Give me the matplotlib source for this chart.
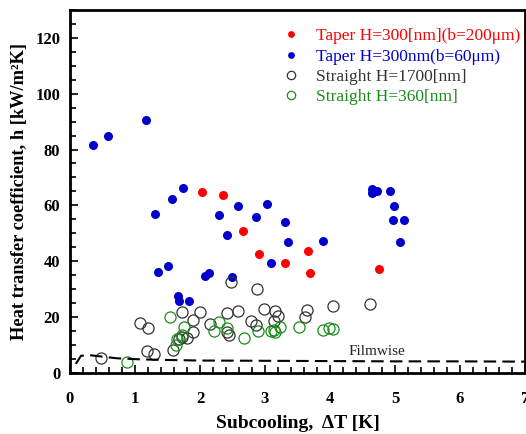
import matplotlib
matplotlib.use('Agg')
import matplotlib.pyplot as plt
from matplotlib.ticker import MultipleLocator
import numpy as np

plt.rcParams['font.family'] = ['Liberation Serif', 'DejaVu Serif']

# --- data ----------------------------------------------
taper200_x = [2.03, 2.35, 2.66, 2.91, 3.31, 3.66, 3.70, 4.76]
taper200_y = [64.8, 63.7, 50.8, 42.5, 39.4, 43.7, 35.6, 37.3]

taper60_x = [0.36, 0.58, 1.17, 1.31, 1.57, 1.74, 1.36, 1.51, 1.66, 1.67, 1.83,
             2.08, 2.14, 2.50, 2.30, 2.42, 2.59, 2.86, 3.03, 3.09, 3.31, 3.35,
             3.90, 4.65, 4.65, 4.72, 4.69, 4.92, 4.99, 4.97, 5.14, 5.08]
taper60_y = [81.7, 84.8, 90.5, 57.0, 62.1, 66.1, 36.1, 38.3, 27.5, 25.7, 25.7,
             34.8, 35.9, 34.5, 56.4, 49.2, 59.9, 55.8, 60.5, 39.4, 54.0, 47.0,
             47.2, 66.0, 64.4, 65.2, 65.0, 65.2, 59.9, 54.8, 54.8, 47.0]

str1700_x = [0.48, 1.08, 1.20, 1.18, 1.29, 1.58, 1.72, 2.00, 1.90, 1.90, 1.67,
             1.73, 1.80, 2.16, 2.42, 2.42, 2.44, 2.48, 2.59, 2.78, 2.87, 2.86,
             2.98, 3.15, 3.20, 3.14, 3.65, 3.62, 4.05, 4.62]
str1700_y = [5.3, 17.9, 16.0, 7.7, 6.7, 8.1, 21.9, 21.9, 18.9, 14.5, 12.2,
             12.8, 12.6, 17.5, 21.6, 14.5, 13.7, 32.4, 22.2, 18.5, 30.0, 17.0,
             23.0, 22.0, 20.3, 18.5, 22.4, 20.0, 23.9, 24.5]

str360_x = [0.88, 1.54, 1.76, 1.64, 1.63, 1.73, 2.22, 2.29, 2.41, 2.68, 2.90,
            3.09, 3.14, 3.16, 3.23, 3.53, 3.90, 3.98, 4.05]
str360_y = [3.8, 20.1, 16.3, 12.0, 9.8, 13.6, 14.9, 18.3, 16.0, 12.3, 14.9,
            14.9, 15.4, 14.7, 16.3, 16.3, 15.5, 16.1, 15.7]

film_x = [0.09, 0.17, 0.31, 0.72, 1.10, 1.50, 2.00, 3.00, 4.00, 5.00, 6.00, 7.00]
film_y = [3.2, 6.1, 6.3, 5.2, 4.8, 4.6, 4.4, 4.3, 4.2, 4.1, 4.1, 4.0]

red = '#ff0000'
blue = '#0000cc'
gray = '#333333'
green = '#1a8c1a'

fig = plt.figure(figsize=(5.26, 4.34), dpi=100)
ax = fig.add_axes([0.133, 0.141, 0.865, 0.836])

ax.plot(taper200_x, taper200_y, 'o', color=red, markersize=6.5, markeredgewidth=0,
        label='Taper H=300[nm](b=200\u03bcm)')
ax.plot(taper60_x, taper60_y, 'o', color=blue, markersize=6.5, markeredgewidth=0,
        label='Taper H=300nm(b=60\u03bcm)')
ax.plot(str1700_x, str1700_y, 'o', mfc='none', mec=gray, markersize=8, markeredgewidth=0.9,
        label='Straight H=1700[nm]')
ax.plot(str360_x, str360_y, 'o', mfc='none', mec=green, markersize=8, markeredgewidth=0.9,
        label='Straight H=360[nm]')
ax.plot(film_x, film_y, '--', color='black', lw=1.5, dashes=(6, 3))
ax.text(4.29, 6.4, 'Filmwise', fontsize=11, color='#222222')

ax.set_xlim(0, 7)
ax.set_ylim(0, 130)
ax.xaxis.set_major_locator(MultipleLocator(1))
ax.xaxis.set_minor_locator(MultipleLocator(0.2))
ax.yaxis.set_major_locator(MultipleLocator(20))
ax.yaxis.set_minor_locator(MultipleLocator(5))
ax.tick_params(which='both', direction='in', top=False, right=False, width=1.2)
ax.tick_params(which='major', length=6)
ax.tick_params(which='minor', length=4)
ax.tick_params(axis='x', pad=13)
ax.tick_params(axis='y', pad=7)
for lab in ax.get_xticklabels() + ax.get_yticklabels():
    lab.set_fontweight('bold')
    lab.set_fontsize(12)
for s in ax.spines.values():
    s.set_linewidth(2)

ax.set_xlabel('Subcooling,  \u0394T [K]', fontsize=14, fontweight='bold', labelpad=6)
ax.set_ylabel('Heat transfer coefficient, h [kW/m\u00b2K]', fontsize=13.2,
              fontweight='bold', labelpad=5)

leg = ax.legend(loc='upper left', bbox_to_anchor=(0.432, 0.993), frameon=False,
                fontsize=12.5, handlelength=1.0, handletextpad=0.95, labelspacing=0.24,
                markerscale=0.75)
for txt, c in zip(leg.get_texts(), [red, blue, gray, green]):
    txt.set_color(c)

plt.savefig('out.png', dpi=100)
